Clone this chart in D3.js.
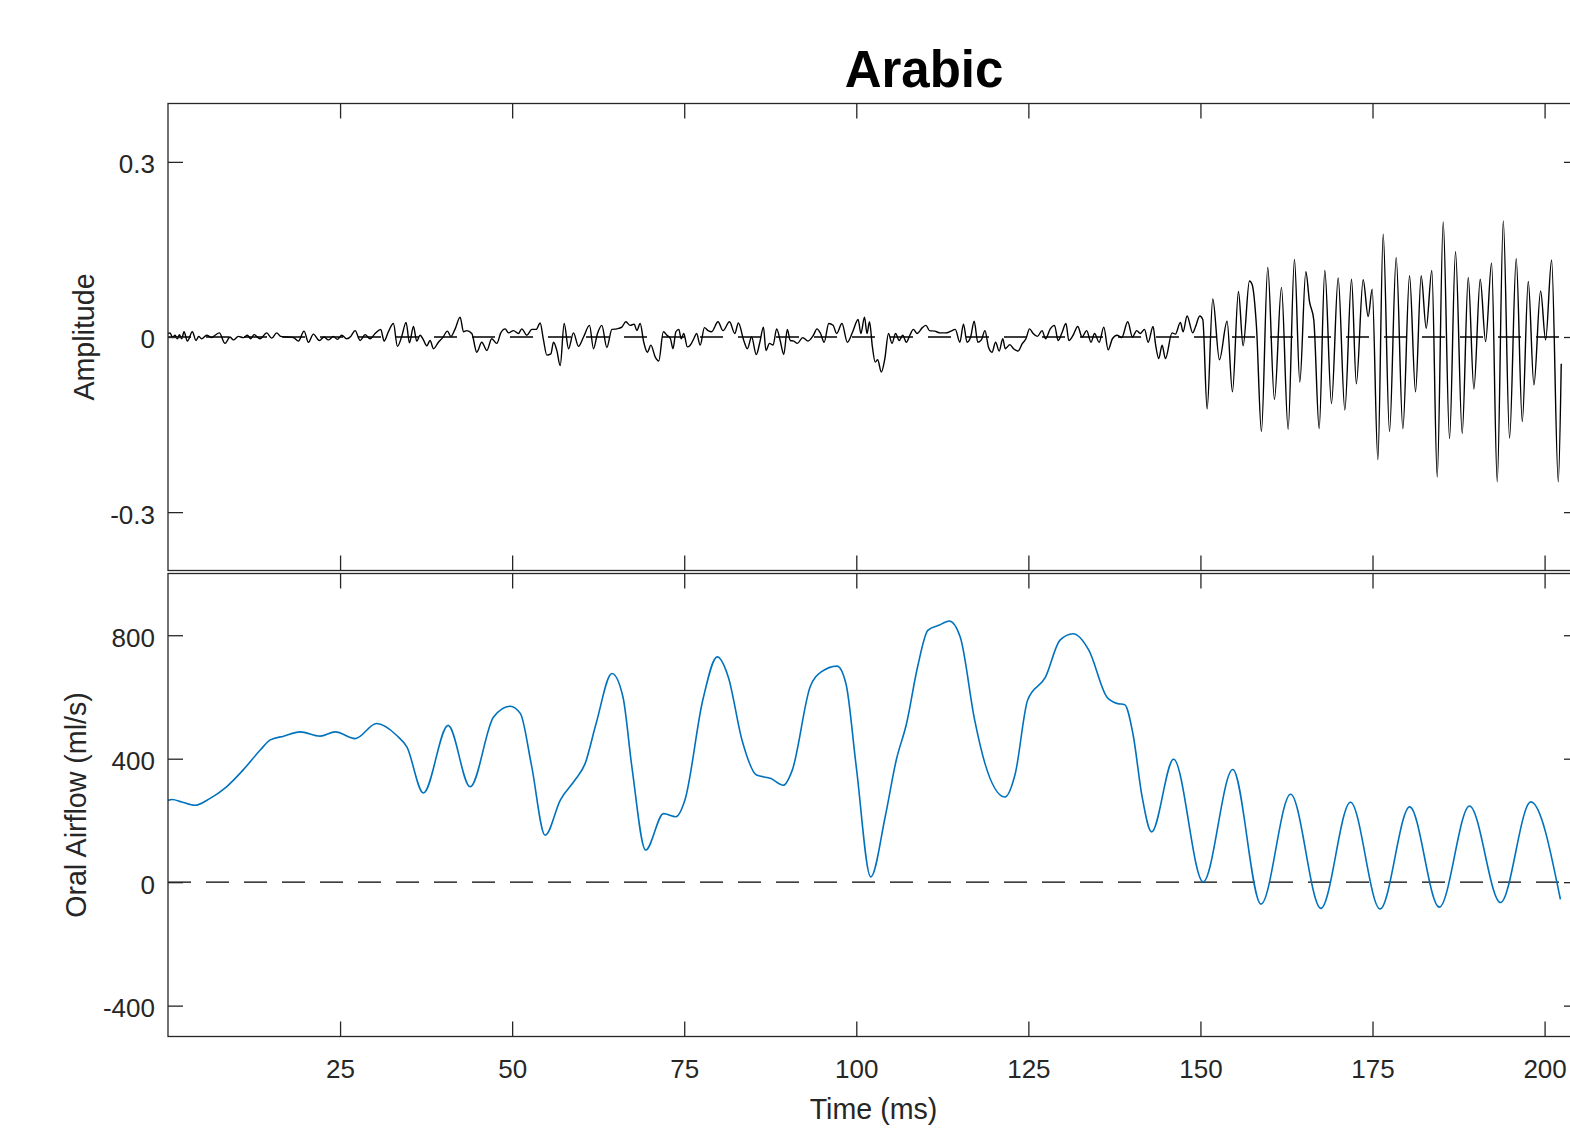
<!DOCTYPE html>
<html><head><meta charset="utf-8">
<script src="https://cdn.jsdelivr.net/npm/d3@7"></script>
<style>body{margin:0;background:#fff}</style>
</head><body><svg id="c" width="1570" height="1130"></svg>
<script>
// ---------- data ----------
const title = "Arabic";
const xLabel = "Time (ms)";
const topLabel = "Amplitude";
const botLabel = "Oral Airflow (ml/s)";
const xDomain = [0, 205];
const topDomain = [-0.4, 0.4];
const botDomain = [-500, 1000];
const xTicks = [25, 50, 75, 100, 125, 150, 175, 200];
const topTicks = [-0.3, 0, 0.3];
const botTicks = [-400, 0, 400, 800];

// acoustic waveform [time ms, amplitude]
const amplitude = [
[0,0.006],[0.29,0.007],[0.68,-0.001],[1.02,0.003],[1.36,-0.003],[1.65,0.004],[1.99,-0.003],[2.33,0.009],[2.81,-0.007],[3.54,0.009],
[4.07,-0.006],[4.46,0.001],[4.89,-0.003],[5.62,0.003],[6.35,-0.001],[6.83,0.003],[7.46,0.007],[8.28,-0.011],[9.01,0],[9.50,-0.005],
[10.22,0.001],[10.95,-0.001],[11.53,0.003],[12.02,-0.003],[12.50,0.004],[13.37,-0.003],[14.34,0.007],[15.07,-0.002],[15.79,0.007],[16.37,0.001],
[17.25,0],[18.22,-0.001],[18.94,-0.007],[19.77,0.010],[20.40,-0.009],[21.12,0.005],[22.00,-0.006],[22.67,0],[23.30,-0.005],[24.03,0.001],
[24.61,-0.004],[25.24,0.003],[25.97,-0.003],[26.55,0.001],[27.18,0.011],[27.91,-0.006],[28.63,0.004],[29.36,-0.003],[30.09,0.006],[30.91,0.013],
[31.40,-0.007],[32.02,0.009],[32.75,0.023],[33.33,-0.016],[33.96,0.001],[34.59,0.025],[35.08,-0.010],[35.66,0.018],[36.14,-0.007],[36.63,0.003],
[37.11,-0.005],[37.60,-0.015],[38.08,-0.006],[38.57,-0.020],[39.29,-0.009],[39.92,-0.001],[40.60,0.010],[41.09,0.001],[41.72,0.014],[42.44,0.034],
[42.93,0.009],[43.41,0.011],[44.14,0.006],[44.86,-0.026],[45.59,-0.009],[46.32,-0.023],[47.04,-0.003],[47.77,-0.011],[48.35,0.007],[48.98,0.014],
[49.47,0.007],[50.19,0.011],[50.92,0.006],[51.40,0.014],[52.13,0.003],[52.86,0.013],[53.49,0.013],[54.07,0.024],[54.55,-0.005],[55.04,-0.031],
[55.62,-0.029],[56.01,-0.009],[56.49,-0.023],[56.98,-0.049],[57.56,0.023],[58.19,-0.020],[58.91,0.007],[59.64,-0.016],[60.37,0],[61.24,0.020],
[61.82,-0.020],[62.40,0.006],[63.03,0.020],[63.76,-0.018],[64.49,0.013],[65.21,0.014],[65.94,0.017],[66.52,0.026],[67.15,0.020],[67.73,0.022],
[68.12,0.011],[68.60,0.023],[69.12,-0.009],[69.64,-0.026],[70.16,-0.014],[70.78,-0.034],[71.30,-0.041],[71.97,0.009],[72.49,0.003],[73.00,-0.003],
[73.37,-0.020],[73.79,0.009],[74.21,0.013],[74.57,-0.003],[74.93,0.006],[75.45,-0.017],[75.87,-0.014],[76.39,-0.003],[76.80,0.006],[77.32,-0.014],
[77.94,0.016],[78.46,0.011],[78.98,0.009],[79.91,0.026],[80.64,0.011],[81.58,0.026],[82.35,0.006],[82.87,0.024],[83.65,-0.006],[84.17,-0.020],
[84.79,0],[85.47,-0.030],[85.99,-0.009],[86.51,0.017],[86.87,-0.023],[87.39,-0.011],[87.91,-0.014],[88.43,0.014],[88.94,-0.006],[89.46,-0.030],
[89.98,0.013],[90.40,-0.006],[90.92,-0.007],[91.44,-0.011],[92.21,-0.001],[92.99,-0.007],[93.77,0.003],[94.29,0.014],[94.81,0.006],[95.33,-0.009],
[96.00,0.023],[96.63,0.020],[97.15,0.006],[97.92,0.023],[98.70,-0.009],[99.48,0.009],[100.26,0.030],[100.67,0.006],[101.19,0.034],[101.56,0.006],
[101.92,0.026],[102.34,-0.017],[102.75,-0.043],[103.11,-0.039],[103.63,-0.060],[104.15,-0.037],[104.67,0.006],[105.19,-0.011],[105.71,0.006],[106.23,-0.006],
[106.75,0.003],[107.27,-0.009],[107.78,0.003],[108.30,0.013],[108.82,0.006],[109.60,0.016],[110.12,0.020],[110.64,0.011],[111.42,0.010],[112.20,0.007],
[112.97,0.007],[113.75,0.010],[114.38,0.013],[115.05,-0.009],[115.57,0.022],[116.09,-0.009],[116.61,0],[117.13,0.027],[117.65,-0.009],[118.17,-0.005],
[118.69,0.011],[119.20,-0.017],[119.72,-0.026],[120.24,-0.009],[120.76,-0.024],[121.28,-0.003],[121.64,-0.020],[122.32,-0.013],[122.84,-0.020],[123.51,-0.024],
[124.13,-0.011],[124.65,-0.003],[125.17,0.014],[125.69,0.006],[126.31,0.001],[126.99,0.011],[127.50,-0.003],[128.18,0.014],[128.80,0.020],[129.32,-0.006],
[129.84,0.006],[130.46,0.023],[130.88,-0.006],[131.50,0.003],[132.18,0.018],[132.80,0],[133.47,0.011],[134.10,-0.009],[134.61,0.006],[135.29,-0.009],
[135.96,0.017],[136.59,-0.022],[137.21,-0.003],[137.88,0.003],[138.56,-0.001],[139.44,0.026],[140.12,0],[140.74,0.011],[141.26,0.006],[141.88,0.013],
[142.40,-0.009],[143.12,0.018],[143.46,-0.011],[143.94,-0.037],[144.43,-0.014],[144.91,-0.037],[145.88,0.007],[146.36,0.005],[147.09,0.025],[147.48,0.009],
[148.06,0.036],[148.88,0.007],[149.27,0.017],[149.90,0.036],[150.34,0.030],[150.97,-0.123],[151.79,0.065],[152.76,-0.039],[153.87,0.027],[154.65,-0.094],
[155.52,0.078],[156.20,-0.015],[157.12,0.096],[157.51,0.090],[158.14,0.018],[158.86,-0.162],[159.78,0.119],[160.75,-0.107],[161.77,0.085],[162.74,-0.158],
[163.66,0.133],[164.44,-0.077],[165.31,0.112],[165.84,0.061],[166.47,0.029],[167.25,-0.157],[168.07,0.114],[169.04,-0.114],[170.01,0.101],[170.98,-0.125],
[171.95,0.099],[172.65,-0.080],[173.64,0.098],[174.37,0.035],[174.95,0.082],[175.78,-0.210],[176.55,0.176],[177.47,-0.162],[178.44,0.136],[179.41,-0.157],
[180.38,0.105],[181.25,-0.094],[182.07,0.105],[182.80,0.015],[183.62,0.114],[184.40,-0.240],[185.27,0.197],[186.19,-0.174],[187.06,0.146],[188.03,-0.165],
[188.91,0.102],[189.73,-0.089],[190.65,0.099],[191.43,-0.008],[192.30,0.127],[193.12,-0.248],[194.00,0.199],[194.91,-0.173],[195.88,0.134],[196.76,-0.145],
[197.63,0.095],[198.45,-0.082],[199.42,0.079],[200.15,-0.005],[201.02,0.132],[201.99,-0.248],[202.42,-0.046]
];

// oral airflow [time ms, ml/s]
const airflow = [
[0,265],[0.6,268],[2.0,260],[3.9,249],[6.0,270],[8.5,309],[10.9,363],[13.4,428],[14.8,460],[16.8,473],
[19.2,487],[22.1,473],[24.3,487],[27.2,465],[30.3,514],[33.2,476],[34.7,438],[37.1,289],[40.7,508],[43.9,309],
[47.3,535],[49.7,570],[51.2,546],[52.8,380],[54.8,152],[57.0,266],[59.1,330],[60.6,384],[62.2,514],[64.5,676],
[66.1,600],[67.4,373],[69.4,104],[72.0,222],[73.8,212],[75.1,266],[77.7,590],[79.8,730],[81.4,665],[83.4,460],
[85.5,347],[87.6,336],[89.4,314],[90.7,363],[93.3,633],[94.9,681],[97.2,700],[98.5,643],[100.0,373],[102.1,17],
[104.2,212],[105.8,395],[107.3,514],[108.9,697],[110.4,816],[112.0,832],[113.5,846],[115.1,794],[117.2,525],[118.7,384],
[121.6,276],[123.1,352],[124.9,590],[127.5,665],[129.6,784],[131.5,805],[133.8,751],[136.4,600],[137.9,579],[139.0,575],
[140.2,480],[141.5,280],[142.9,163],[146.1,398],[150.4,1],[154.7,365],[158.8,-71],[163.1,285],[167.5,-85],[171.8,259],
[176.1,-87],[180.4,244],[184.7,-81],[189.1,247],[193.6,-66],[198.0,260],[202.3,-56]
];

// ---------- drawing ----------
const svg = d3.select("#c");
const FONT = "'Liberation Sans', Arial, Helvetica, sans-serif";
const AX = "#262626";
const L = 168, R = 1579;
const x = d3.scaleLinear().domain(xDomain).range([L, R]);
const yTop = d3.scaleLinear().domain(topDomain).range([570.5, 103.5]);
const yBot = d3.scaleLinear().domain(botDomain).range([1036.5, 573.5]);
const plainFmt = d => String(d);

function panel(y, ticks, data, color, lw, showX) {
  const g = svg.append("g");
  const [y0, y1] = y.range();
  g.append("path")
    .attr("d", d3.line().x(d => x(d[0])).y(d => y(d[1]))([[xDomain[0], 0], [xDomain[1], 0]]))
    .attr("fill", "none").attr("stroke", "#000").attr("stroke-width", 1.4)
    .attr("stroke-dasharray", "23,15");
  g.append("path")
    .attr("d", d3.line().curve(d3.curveMonotoneX).x(d => x(d[0])).y(d => y(d[1]))(data))
    .attr("fill", "none").attr("stroke", color).attr("stroke-width", lw)
    .attr("stroke-linejoin", "round");
  const left = g.append("g").attr("transform", `translate(${L},0)`)
    .call(d3.axisLeft(y).tickValues(ticks).tickFormat(plainFmt).tickSize(-15).tickPadding(13));
  const right = g.append("g").attr("transform", `translate(${R},0)`)
    .call(d3.axisRight(y).tickValues(ticks).tickFormat("").tickSize(-15));
  const top = g.append("g").attr("transform", `translate(0,${y1})`)
    .call(d3.axisTop(x).tickValues(xTicks).tickFormat("").tickSize(-15));
  const bot = g.append("g").attr("transform", `translate(0,${y0})`)
    .call(d3.axisBottom(x).tickValues(xTicks).tickFormat(showX ? plainFmt : "").tickSize(-15).tickPadding(23));
  [left, right, top, bot].forEach(a => {
    a.select(".domain").remove();
    a.selectAll("line").attr("stroke", AX).attr("stroke-width", 1.3);
    a.selectAll("text").attr("fill", AX).style("font-family", FONT).style("font-size", "26px");
  });
  left.selectAll("text").attr("dy", "0.42em");
  g.append("rect").attr("x", L).attr("y", y1).attr("width", R - L).attr("height", y0 - y1)
    .attr("fill", "none").attr("stroke", AX).attr("stroke-width", 1.3);
  return g;
}

panel(yTop, topTicks, amplitude, "#000", 1.4, false);
panel(yBot, botTicks, airflow, "#0072BD", 1.6, true);

svg.append("text").attr("x", 924).attr("y", 87).attr("text-anchor", "middle")
  .style("font-family", FONT).style("font-weight", "bold").style("font-size", "51px")
  .attr("fill", "#000").text(title);
svg.append("text").attr("x", (L + R) / 2).attr("y", 1119).attr("text-anchor", "middle")
  .style("font-family", FONT).style("font-size", "28.6px").attr("fill", AX).text(xLabel);
svg.append("text").attr("transform", `translate(94,${yTop(0)}) rotate(-90)`).attr("text-anchor", "middle")
  .style("font-family", FONT).style("font-size", "28.6px").attr("fill", AX).text(topLabel);
svg.append("text").attr("transform", `translate(86,${yBot(250)}) rotate(-90)`).attr("text-anchor", "middle")
  .style("font-family", FONT).style("font-size", "28.6px").attr("fill", AX).text(botLabel);
</script></body></html>
